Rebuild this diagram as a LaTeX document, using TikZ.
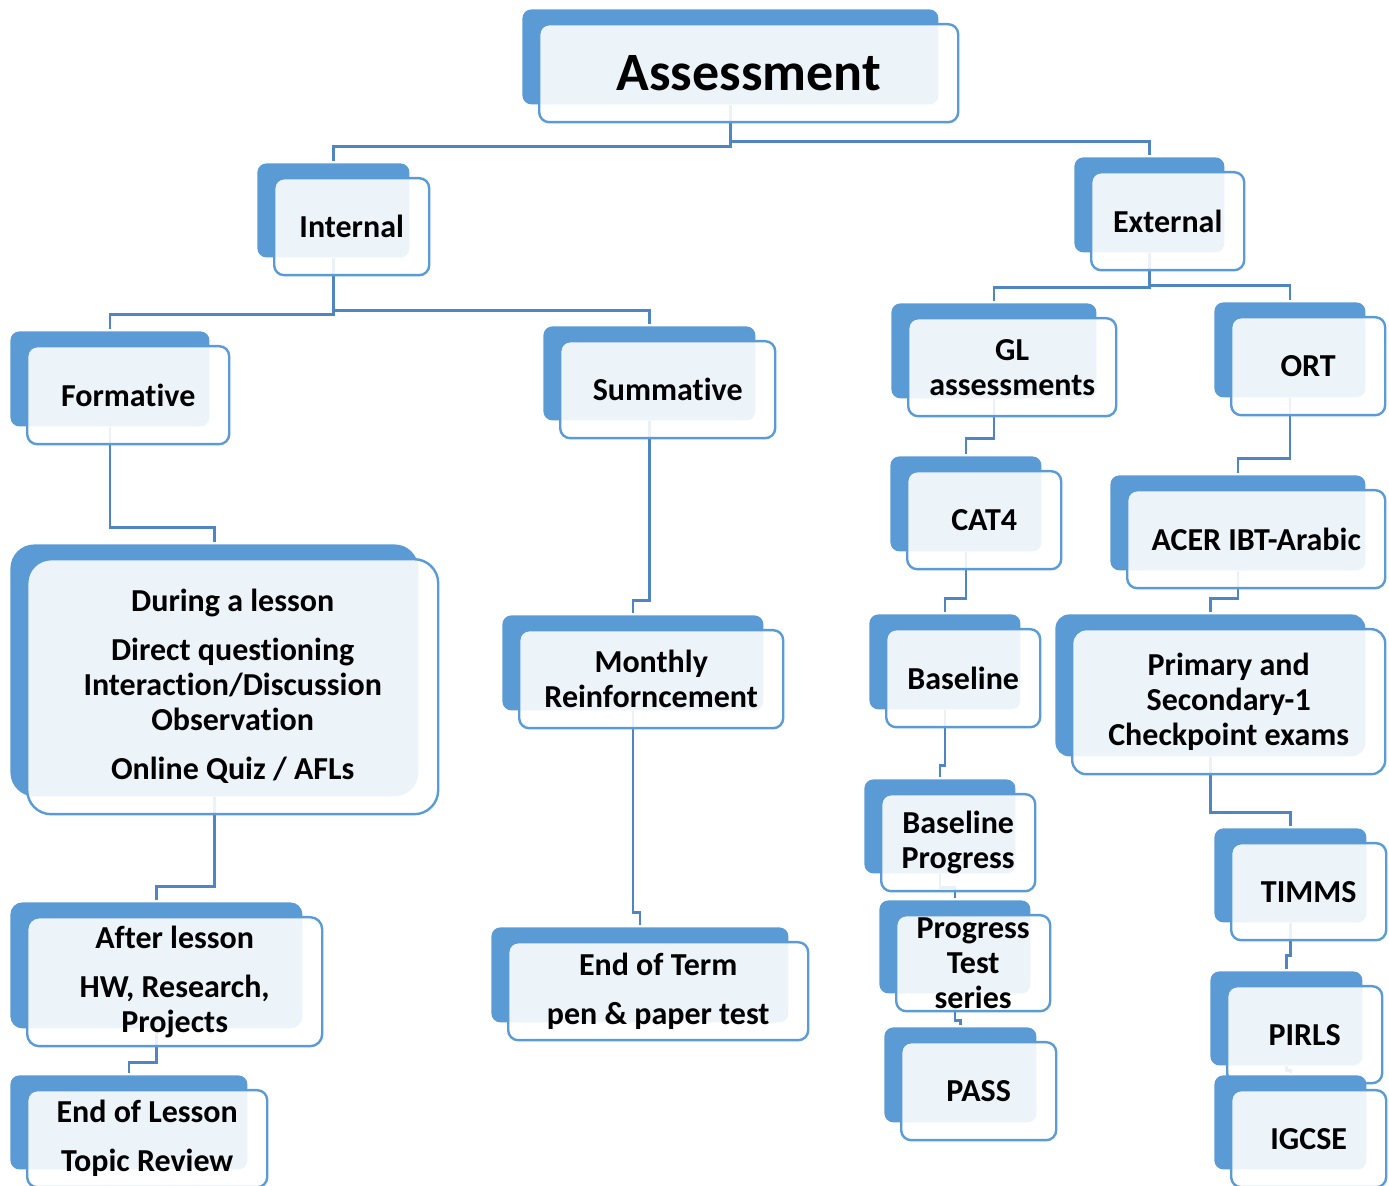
\documentclass[tikz,border=0pt]{standalone}
\usepackage{fontspec}
\setmainfont{Carlito}[RawFeature={-liga;-clig;-calt}]
\usetikzlibrary{calc,backgrounds}

\definecolor{cardblue}{HTML}{5B9BD5}
\definecolor{linkblue}{HTML}{4F86C2}

\tikzset{
  back/.style={fill=cardblue, rounded corners=4.5pt, inner sep=0pt, anchor=north west},
  front/.style={draw=cardblue, line width=1.2pt, fill=white, fill opacity=0.89,
                text opacity=1, rounded corners=5pt, inner sep=0pt, anchor=north west,
                align=center, font=\bfseries\fontsize{16}{17.5}\selectfont},
  link/.style={draw=linkblue, line width=1.4pt, shorten >=1pt}
}

% #2 name, #3 #4 top left of the blue card, #5 #6 its size, #7 text
\newcommand{\Card}[7][]{%
  \node[back, #1, minimum width=#5*0.5pt, minimum height=#6*0.5pt] (#2) at (#3,#4) {};
  \node[front, #1, minimum width=#5*0.5pt+1.5pt, minimum height=#6*0.5pt+1.5pt]
       (#2-t) at ($(#2.north west)+(16,14)$) {#7};
}

\begin{document}
\begin{tikzpicture}[x=0.5pt,y=-0.5pt]
  \useasboundingbox (0,0) rectangle (1389,1186);

  \Card[font=\bfseries\fontsize{27}{30}\selectfont]{assess}{522}{9}{416}{95}{Assessment}
  \Card{internal}{257}{163}{152}{94}{Internal}
  \Card{external}{1074}{157}{150}{95}{External}

  \Card{formative}{10}{331}{199}{95}{Formative}
  \Card{summative}{543}{326}{212}{94}{Summative}
  \Card{gl}{891}{303}{205}{95}{GL\\assessments}
  \Card{ort}{1214}{302}{151}{95}{ORT}

  \Card{cat}{890}{456}{151}{95}{CAT4}
  \Card{acer}{1110}{475}{255}{95}{ACER IBT-Arabic}

  \Card[rounded corners=12pt]{during}{10}{544}{408}{252}{During a lesson\\[7pt]Direct questioning\\Interaction/Discussion\\Observation\\[7pt]Online Quiz / AFLs}
  \Card{monthly}{502}{615}{261}{95}{Monthly\\Reinforncement}
  \Card{baseline}{869}{614}{151}{95}{Baseline}
  \Card[rounded corners=7pt]{primary}{1055}{614}{310}{142}{Primary and\\Secondary-1\\Checkpoint exams}

  \Card{bprog}{864}{779}{151}{94}{Baseline\\Progress}
  \Card{timms}{1214}{828}{152}{94}{TIMMS}
  \Card{ptest}{879}{900}{151}{93}{Progress\\Test\\series}
  \Card[rounded corners=6pt]{after}{10}{902}{292}{126}{After lesson\\[7pt]HW, Research,\\Projects}
  \Card{term}{491}{927}{297}{95}{End of Term\\[7pt]pen \& paper test}
  \Card{pirls}{1210}{971}{152}{94}{PIRLS}
  \Card{pass}{884}{1027}{152}{95}{PASS}
  \Card{eol}{10}{1075}{237}{94}{End of Lesson\\[7pt]Topic Review}
  \Card{igcse}{1214}{1075}{152}{94}{IGCSE}

  \begin{pgfonlayer}{background}
    \draw[link] (assess.south) -- ++(0,42) -| (internal.north);
    \draw[link] (assess.south) -- ++(0,37) -| (external.north);
    \draw[link] (internal.south) -- ++(0,57) -| (formative.north);
    \draw[link] (internal.south) -- ++(0,53) -| (summative.north);
    \draw[link] (external.south) -- ++(0,35) -| (gl.north);
    \draw[link] (external.south) -- ++(0,33) -| (ort.north);

    \draw[link] (formative.south) -- ++(0,101) -| (during.north);
    \draw[link] (during.south) -- ++(0,90) -| (after.north);
    \draw[link] (after.south) -- ++(0,34) -| (eol.north);

    \draw[link] (summative.south) -- ++(0,180) -| (monthly.north);
    \draw[link] (monthly.south) -- ++(0,202) -| (term.north);

    \draw[link] (gl.south) -- ++(0,40) -| (cat.north);
    \draw[link] (cat.south) -- ++(0,47) -| (baseline.north);
    \draw[link] (baseline.south) -- ++(0,56) -| (bprog.north);
    \draw[link] (bprog.south) -- ++(0,14) -| (ptest.north);
    \draw[link] (ptest.south) -- ++(0,27) -| (pass.north);

    \draw[link] (ort.south) -- ++(0,61) -| (acer.north);
    \draw[link] (acer.south) -- ++(0,28) -| (primary.north);
    \draw[link] (primary.south) -- ++(0,56) -| (timms.north);
    \draw[link] (timms.south) -- ++(0,33) -| (pirls.north);
    \draw[link] (pirls.south) -- ++(0,5) -| (igcse.north);
  \end{pgfonlayer}
\end{tikzpicture}
\end{document}
